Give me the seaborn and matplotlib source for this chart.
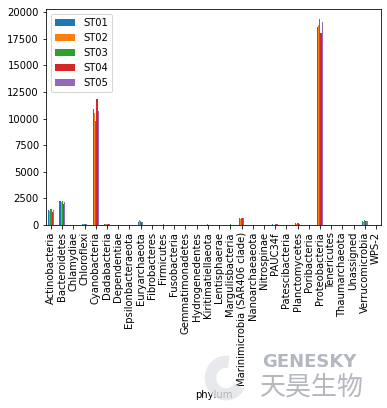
import numpy as np
import pandas as pd
import matplotlib
matplotlib.use("Agg")
import matplotlib.pyplot as plt
from matplotlib.patches import Wedge
import seaborn as sns

phyla = ["Actinobacteria", "Bacteroidetes", "Chlamydiae", "Chloroflexi", "Cyanobacteria",
         "Dadabacteria", "Dependentiae", "Epsilonbacteraeota", "Euryarchaeota", "Fibrobacteres",
         "Firmicutes", "Fusobacteria", "Gemmatimonadetes", "Hydrogenedentes", "Kiritimatiellaeota",
         "Lentisphaerae", "Margulisbacteria", "Marinimicrobia (SAR406 clade)", "Nanoarchaeaeota",
         "Nitrospinae", "PAUC34f", "Patescibacteria", "Planctomycetes", "Poribacteria",
         "Proteobacteria", "Tenericutes", "Thaumarchaeota", "Unassigned", "Verrucomicrobia", "WPS-2"]

samples = ["ST01", "ST02", "ST03", "ST04", "ST05"]

st01 = [1450, 2250, 5, 60, 10900, 90, 3, 5, 300, 3, 40, 2, 5, 3, 40, 10, 40, 650, 3, 10, 50, 5, 150, 3, 18600, 5, 5, 5, 350, 5]
st02 = [1350, 2150, 5, 50, 10550, 80, 3, 5, 450, 3, 30, 2, 5, 3, 30, 10, 30, 600, 3, 10, 40, 5, 120, 3, 18800, 5, 5, 5, 300, 5]
st03 = [1550, 2300, 5, 70, 9800, 120, 3, 5, 350, 3, 50, 2, 5, 3, 50, 10, 50, 700, 3, 10, 60, 5, 200, 3, 19400, 5, 5, 5, 500, 5]
st04 = [1200, 2000, 5, 60, 11850, 100, 3, 5, 300, 3, 40, 2, 5, 3, 40, 10, 40, 650, 3, 10, 50, 5, 150, 3, 18050, 5, 5, 5, 350, 5]
st05 = [1400, 2150, 5, 60, 10750, 90, 3, 5, 320, 3, 40, 2, 5, 3, 40, 10, 40, 700, 3, 10, 50, 5, 130, 3, 19050, 5, 5, 5, 350, 5]

df = pd.DataFrame({"phylum": phyla, "ST01": st01, "ST02": st02, "ST03": st03, "ST04": st04, "ST05": st05})
long = df.melt(id_vars="phylum", var_name="sample", value_name="count")

W, H = 387, 408
fig = plt.figure(figsize=(W / 72, H / 72), dpi=72)
ax = fig.add_axes([46 / W, 1 - 225 / H, (381 - 46) / W, (225 - 9) / H])
sns.barplot(data=long, x="phylum", y="count", hue="sample", hue_order=samples, order=phyla,
            palette=sns.color_palette("tab10", 5), width=0.5, ax=ax, errorbar=None,
            saturation=1)
ax.set_ylim(0, 20300)
ax.set_xlim(-0.45, len(phyla) - 0.55)
ax.set_yticks([0, 2500, 5000, 7500, 10000, 12500, 15000, 17500, 20000])
ax.tick_params(axis="x", rotation=90, labelsize=10)
ax.tick_params(axis="y", labelsize=10)
ax.set_xlabel("phylum", fontsize=10)
ax.set_ylabel("")
ax.legend(loc="upper left", fontsize=10, title=None)

# watermark logo
logo = Wedge((226 / W, 1 - 378 / H), 0.055, 80, 330, width=0.03, transform=fig.transFigure,
             facecolor="#e2e4e8", edgecolor="none", alpha=0.8)
fig.add_artist(logo)
fig.text(262 / W, 1 - 371 / H, "GENESKY", color="#b2b7c2", fontsize=18, fontweight="bold",
         ha="left", va="bottom")
fig.text(260 / W, 1 - 401 / H, "天昊生物", color="#b4b7be", fontsize=26, ha="left", va="bottom",
         family=["Noto Sans CJK SC", "DejaVu Sans"])

fig.savefig("out.png", dpi=72)
